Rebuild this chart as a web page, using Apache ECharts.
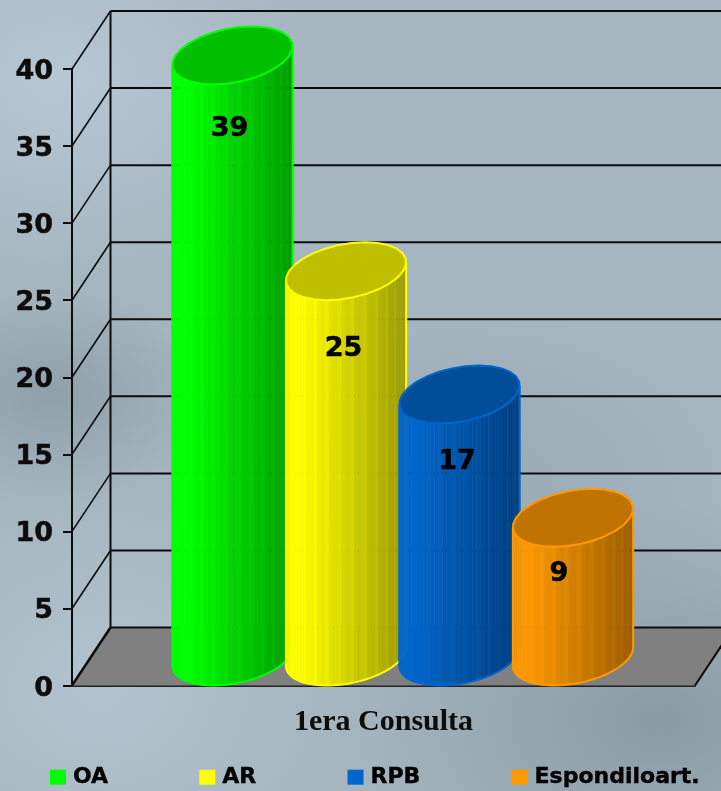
<!DOCTYPE html>
<html>
<head>
<meta charset="utf-8">
<title>1era Consulta</title>
<style>
html, body { margin: 0; padding: 0; width: 721px; height: 791px; overflow: hidden; }
body {
    background:
        radial-gradient(ellipse 170px 110px at 50px 395px, rgba(130,145,155,0.6), rgba(130,145,155,0)),
        radial-gradient(ellipse 320px 220px at 660px 720px, rgba(125,140,148,0.65), rgba(125,140,148,0)),
        radial-gradient(ellipse 300px 170px at 450px 480px, rgba(135,150,160,0.4), rgba(135,150,160,0)),
        radial-gradient(ellipse 260px 200px at 60px 80px, rgba(190,206,220,0.7), rgba(190,206,220,0)),
        radial-gradient(ellipse 240px 200px at 100px 690px, rgba(182,198,210,0.8), rgba(182,198,210,0)),
        #a5b6c1;
}
#chart { width: 721px; height: 791px; }
</style>
<script src="https://cdn.jsdelivr.net/npm/echarts@6/dist/echarts.min.js"></script>
</head>
<body>
<div id="chart"></div>
<script>
// 数据
var categories = ['1era Consulta'];
var seriesNames = ['OA', 'AR', 'RPB', 'Espondiloart.'];
var seriesValues = [39, 25, 17, 9];
var seriesColors = ['#00ff00', '#ffff00', '#0066cc', '#ff9900'];
var yTicks = [0, 5, 10, 15, 20, 25, 30, 35, 40];

// 3D 外观参数（像素）
var depthX = 38.5;
var depthY = -58;
var barStep = 113.5;
var barHalfW = 57;
var facets = 44;
// 数值标签相对柱顶中心的偏移
var labelShift = [[-3, 73.5], [-2.5, 78], [-2.5, 67], [-14, 56]];

var fontBold = '"DejaVu Sans", Verdana, sans-serif';

function shade(hex, k) {
    var r = parseInt(hex.substr(1, 2), 16);
    var g = parseInt(hex.substr(3, 2), 16);
    var b = parseInt(hex.substr(5, 2), 16);
    return 'rgb(' + Math.round(r * k) + ',' + Math.round(g * k) + ',' + Math.round(b * k) + ')';
}

// 背面墙、斜线和地板
function renderFrame(params, api) {
    var tick = api.value(0);
    var front = api.coord([0, tick]);
    var leftX = front[0] - api.size([1, 0])[0] / 2;
    var frontRight = leftX + api.size([1, 0])[0];
    var y = front[1];
    var backY = y + depthY;
    var children = [];
    var lineStyle = { stroke: '#0c0c0c', lineWidth: 2 };
    if (tick === 0) {
        children.push({
            type: 'polygon',
            shape: { points: [[leftX, y], [leftX + depthX, backY], [frontRight + depthX, backY], [frontRight, y]] },
            style: { fill: '#808080' }
        });
        children.push({
            type: 'line',
            shape: { x1: frontRight, y1: y, x2: frontRight + depthX, y2: backY },
            style: lineStyle
        });
    }
    children.push({
        type: 'line',
        shape: { x1: leftX, y1: y, x2: leftX + depthX, y2: backY },
        style: { stroke: '#0c0c0c', lineWidth: tick === 0 ? 2.5 : 1.6 }
    });
    children.push({
        type: 'line',
        shape: { x1: leftX + depthX, y1: backY, x2: frontRight + depthX, y2: backY },
        style: lineStyle
    });
    if (tick === yTicks[yTicks.length - 1]) {
        var base = api.coord([0, 0]);
        children.push({
            type: 'line',
            shape: { x1: leftX + depthX, y1: backY, x2: leftX + depthX, y2: base[1] + depthY },
            style: lineStyle
        });
    }
    return { type: 'group', children: children };
}

// 圆柱：每个系列一根
function makeCylinder(idx) {
    return function (params, api) {
        var color = seriesColors[idx];
        var topP = api.coord([api.value(0), api.value(1)]);
        var baseP = api.coord([api.value(0), 0]);
        var fx = topP[0] + (idx - 1.5) * barStep;
        var cx = fx + depthX / 2;
        var topY = topP[1] + depthY / 2;
        var baseY = baseP[1] + depthY / 2;
        var vx = depthX / 2;
        var vy = depthY / 2;
        var halfX = Math.sqrt(barHalfW * barHalfW + vx * vx);
        var theta = Math.atan2(vx, barHalfW);
        var t0 = Math.PI + theta;     // 左侧轮廓点
        var t1 = 2 * Math.PI + theta; // 右侧轮廓点（经过下方）
        var children = [];
        function pt(t, y0) {
            return [cx + barHalfW * Math.cos(t) + vx * Math.sin(t), y0 + vy * Math.sin(t)];
        }
        for (var i = 0; i < facets; i++) {
            var a = t0 + (t1 - t0) * i / facets;
            var b = t0 + (t1 - t0) * (i + 1) / facets;
            var pa = pt(a, topY);
            var pb = pt(b, topY);
            var frac = (pa[0] + pb[0]) / 2;
            frac = (frac - (cx - halfX)) / (2 * halfX);
            var k = frac < 0.12 ? 1 : 1 - (frac - 0.12) * 0.45;
            if (i % 3 === 2) {
                k = Math.min(1, k + 0.035);
            }
            var col = shade(color, k);
            children.push({
                type: 'polygon',
                shape: { points: [pa, pb, pt(b, baseY), pt(a, baseY)] },
                style: { fill: col, stroke: col, lineWidth: 0.5 }
            });
        }
        // 侧面外轮廓
        var outline = [];
        outline.push(pt(t0, topY));
        for (var j = 0; j <= facets; j++) {
            outline.push(pt(t0 + (t1 - t0) * j / facets, baseY));
        }
        outline.push(pt(t1, topY));
        children.push({
            type: 'polyline',
            shape: { points: outline },
            style: { fill: 'none', stroke: color, lineWidth: 2 }
        });
        // 顶面
        var cap = [];
        for (var m = 0; m < 28; m++) {
            cap.push(pt(2 * Math.PI * m / 28, topY));
        }
        children.push({
            type: 'polygon',
            shape: { points: cap },
            style: { fill: shade(color, 0.75), stroke: color, lineWidth: 2 }
        });
        // 数值标签
        children.push({
            type: 'text',
            style: {
                text: String(api.value(1)),
                x: cx + labelShift[idx][0],
                y: topY + labelShift[idx][1],
                fill: '#000',
                stroke: '#000',
                lineWidth: 0.5,
                font: 'bold 27px ' + fontBold,
                textAlign: 'center',
                textVerticalAlign: 'middle'
            }
        });
        return { type: 'group', children: children };
    };
}

var series = [{
    name: 'frame',
    type: 'custom',
    silent: true,
    z: 1,
    clip: false,
    renderItem: renderFrame,
    encode: { x: 1, y: 0 },
    data: yTicks.map(function (t) { return [t, 0]; })
}];

seriesNames.forEach(function (name, i) {
    series.push({
        name: name,
        type: 'custom',
        z: 3 + i,
        clip: false,
        itemStyle: { color: seriesColors[i] },
        renderItem: makeCylinder(i),
        encode: { x: 0, y: 1 },
        data: [[0, seriesValues[i]]]
    });
});

var myChart = echarts.init(document.getElementById('chart'), null, { renderer: 'canvas' });
var option = {
    animation: false,
    backgroundColor: 'transparent',
    grid: { left: 72, right: 26, top: 69, bottom: 105.5 },
    legend: {
        data: seriesNames,
        left: 50,
        top: 766,
        padding: 0,
        icon: 'rect',
        itemWidth: 16,
        itemHeight: 15,
        itemGap: 91,
        selectedMode: false,
        textStyle: {
            color: '#000', fontFamily: fontBold, fontWeight: 'bold', fontSize: 22,
            textBorderColor: '#000', textBorderWidth: 0.4, padding: [0, 0, 0, 2]
        }
    },
    xAxis: {
        type: 'category',
        data: categories,
        axisLine: { lineStyle: { color: '#222', width: 2 } },
        axisTick: { show: false },
        axisLabel: {
            color: '#0c0c0c',
            fontFamily: '"Liberation Serif", serif',
            fontWeight: 'bold',
            fontSize: 30,
            margin: 22
        }
    },
    yAxis: {
        type: 'value',
        min: 0,
        max: 40,
        interval: 5,
        splitLine: { show: false },
        axisLine: { show: true, lineStyle: { color: '#0c0c0c', width: 2 } },
        axisTick: { show: true, length: 9, lineStyle: { color: '#0c0c0c', width: 2 } },
        axisLabel: {
            color: '#0c0c0c',
            fontFamily: fontBold,
            fontWeight: 'bold',
            fontSize: 27,
            textBorderColor: '#0c0c0c',
            textBorderWidth: 0.5,
            verticalAlign: 'top',
            lineHeight: 6,
            margin: 19
        }
    },
    series: series
};
myChart.setOption(option);
</script>
</body>
</html>
